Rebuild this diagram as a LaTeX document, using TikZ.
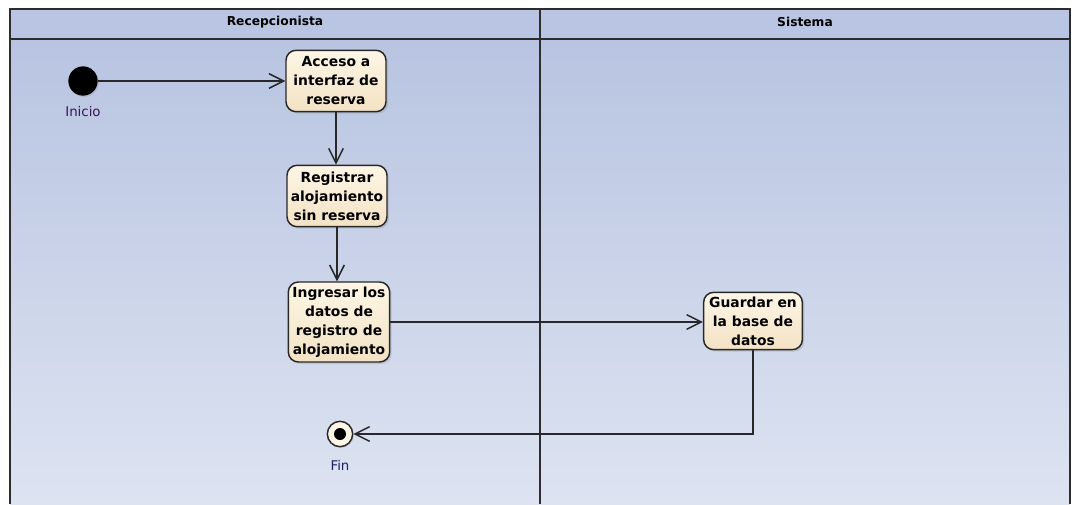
\documentclass[tikz,border=0pt]{standalone}
\usepackage{fontspec}
\setmainfont{DejaVu Sans}
\usepackage{xcolor}
\usepackage{tikz}
\usetikzlibrary{positioning,arrows.meta,shadows}

\definecolor{lanetop}{RGB}{184,196,225}
\definecolor{lanebot}{RGB}{221,227,241}
\definecolor{headfill}{RGB}{185,197,226}
\definecolor{framegray}{RGB}{45,45,45}
\definecolor{linegray}{RGB}{40,40,40}
\definecolor{boxtop}{RGB}{253,246,230}
\definecolor{boxbot}{RGB}{243,226,196}
\definecolor{inicioclr}{RGB}{60,20,90}
\definecolor{finclr}{RGB}{25,35,95}

\tikzset{
    actbox/.style={rectangle, rounded corners=7.5pt, draw=linegray, line width=1.1pt,
        top color=boxtop, bottom color=boxbot, inner sep=0pt, align=center,
        minimum width=75pt, font=\bfseries\fontsize{10.4}{14.25}\selectfont,
        drop shadow={shadow xshift=1.5pt, shadow yshift=-1.5pt, opacity=0.25}},
    flow/.style={-{Straight Barb[length=11pt,width=11pt,line width=1.1pt]}, line width=1.3pt, draw=linegray},
    lanehead/.style={font=\bfseries\fontsize{9.2}{11}\selectfont},
    statelbl/.style={font=\fontsize{10}{12}\selectfont}
}

\begin{document}
\begin{tikzpicture}[x=0.75pt, y=-0.75pt]
    \useasboundingbox (0,0) rectangle (1072,504);

    % Swimlanes
    \shade [top color=lanetop, bottom color=lanebot] (10,39) rectangle (1070,504);
    \fill [headfill] (10,9) rectangle (1070,39);
    \draw [framegray, line width=1.5pt] (10,504) -- (10,9) -- (1070,9) -- (1070,504);
    \draw [framegray, line width=1.5pt] (10,39) -- (1070,39);
    \draw [framegray, line width=1.5pt] (540,9) -- (540,504);
    \node [lanehead] (recep) at (275,22) {Recepcionista};
    \node [lanehead] (sist) at (805,22) {Sistema};

    % Initial node
    \node [circle, fill=black, minimum size=22pt, inner sep=0pt,
        drop shadow={shadow xshift=1pt, shadow yshift=-1pt, opacity=0.2}] (inicio) at (83,81) {};
    \node [statelbl, text=inicioclr] (inicioLbl) at (83,112) {Inicio};

    % Actions
    \node [actbox, minimum height=46pt] (acceso) at (336,81) {Acceso a\\interfaz de\\reserva};
    \node [actbox, minimum height=46pt] (registrar) at (337,196) {Registrar\\alojamiento\\sin reserva};
    \node [actbox, minimum height=60pt, minimum width=76pt] (ingresar) at (339,322) {Ingresar los\\datos de\\registro de\\alojamiento};
    \node [actbox, minimum height=43pt, minimum width=74pt] (guardar) at (753,321) {Guardar en\\la base de\\datos};

    % Final node
    \node [circle, draw=linegray, line width=1.1pt, fill=boxtop, minimum size=19pt, inner sep=0pt,
        drop shadow={shadow xshift=1pt, shadow yshift=-1pt, opacity=0.2}] (fin) at (340,434) {};
    \fill [black] (fin.center) circle (4.5pt);
    \node [statelbl, text=finclr] (finLbl) at (340,465) {Fin};

    % Flows
    \draw [flow] (inicio) -- (acceso.west);
    \draw [flow] (acceso.south) -- (acceso.south |- registrar.north);
    \draw [flow] (registrar.south) -- (registrar.south |- ingresar.north);
    \draw [flow] (ingresar.east) -- (ingresar.east -| guardar.west);
    \draw [flow] (guardar.south) |- (fin.east);
\end{tikzpicture}
\end{document}
